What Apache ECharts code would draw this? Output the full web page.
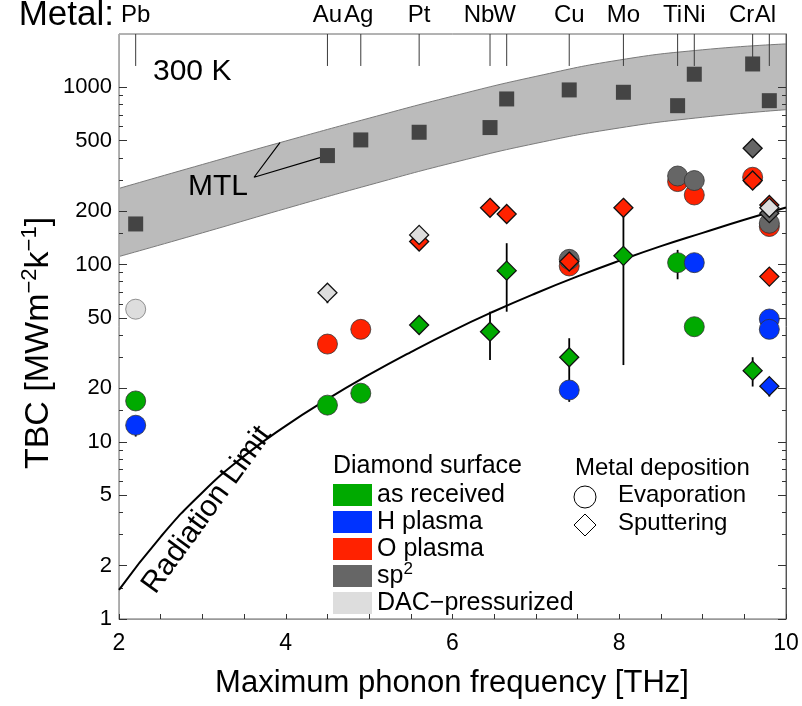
<!DOCTYPE html>
<html>
<head>
<meta charset="utf-8">
<title>TBC vs maximum phonon frequency</title>
<script src="https://cdn.jsdelivr.net/npm/echarts@6/dist/echarts.min.js"></script>
<style>
html,body{margin:0;padding:0;background:#ffffff;}
#chart{width:802px;height:706px;}
</style>
</head>
<body>
<div id="chart"></div>
<script>
// ---------------- data ----------------
const metals    = ['Pb','Au','Ag','Pt','Nb','W','Cu','Mo','Ti','Ni','Cr','Al'];
const metalFreq = [2.20,4.50,4.90,5.60,6.45,6.65,7.40,8.05,8.70,8.90,9.60,9.80];
const mtlValues = [169.5,412,505,558,593,860,967,938,788,1186,1355,841];

const bandFreq  = [2,3,4,5,6,7,8,9,10];
const bandUpper = [269,367,498,670,891,1153,1426,1629,1758];
const bandLower = [111,151,207,281,375,483,590,678,748];

const radFreq = [2,2.5,3,3.5,4,4.5,5,5.5,6,6.5,7,7.5,8,8.5,9,9.5,10];
const radTBC  = [1.46,2.91,5.18,8.30,12.3,17.4,23.9,32.1,42.3,54.5,68.9,85.7,105,127,151,179,210];

// entries: [metal, TBC, errLow, errHigh]
const evapAsReceived = [['Pb',17.0],['Au',16.1],['Ag',18.8],['Ti',102.5,82.6,121],['Ni',44.6]];
const evapHPlasma    = [['Pb',12.4,10.7,14],['Cu',19.6,16.8,22],['Ni',102.5],['Al',49.3],['Al',43.1]];
const evapOPlasma    = [['Au',35.6],['Ag',43.1],['Cu',98.2],['Ti',294],['Ni',247],['Cr',311],['Al',164]];
const evapSp2        = [['Cu',107],['Ti',316],['Ni',298],['Al',171]];
const evapDAC        = [['Pb',56.0]];

const sputAsReceived = [['Pt',45.6],['Nb',41.8,28.9,54.2],['W',92.4,54.2,132],['Cu',30.0,22,38.4],['Mo',112,27.1,195],['Cr',25.2,20.5,30.0]];
const sputHPlasma    = [['Al',20.6,18.0,23]];
const sputOPlasma    = [['Pt',135],['Nb',209],['W',193],['Cu',104],['Mo',209],['Cr',298],['Al',217],['Al',85.5]];
const sputSp2        = [['Cr',453],['Al',195]];
const sputDAC        = [['Au',69.4,60.5,75],['Pt',147],['Al',209]];

const yTickMajor  = [1,2,5,10,20,50,100,200,500,1000];
const yTickMinor  = [1.5,3,4,6,7,8,9,15,30,40,60,70,80,90,150,300,400,600,700,800,900];
const xTickLabels = [2,4,6,8,10];
const surfaceLabels    = ['as received','H plasma','O plasma','sp2','DAC\u2212pressurized'];
const depositionLabels = ['Evaporation','Sputtering'];

// ---------------- styling constants ----------------
const FF = '"Liberation Sans", Arial, Helvetica, sans-serif';
const Y_MIN = 1, Y_MAX = 2000, X_MIN = 2, X_MAX = 10;
const METAL_LINE_END = 1320;
const surfaceColors = ['#00aa00','#0033ff','#ff2200','#666666','#dddddd'];
const metalLabelShift = {Ag:-2, Nb:-11, W:-2, Ti:-5, Cr:-11, Al:-4};
const LOG = v => Math.log10(v);
const freqOf = {};
metals.forEach((m,i) => { freqOf[m] = metalFreq[i]; });

const pts  = arr => arr.map(d => [freqOf[d[0]], LOG(d[1])]);
const errs = arr => arr.filter(d => d.length > 2).map(d => [freqOf[d[0]], LOG(d[2]), LOG(d[3])]);

const chart = echarts.init(document.getElementById('chart'), null, {renderer:'canvas', width:802, height:706});

function yAxis(pos, ticks, len, withLabels, lineColor) {
  return {
    type:'value', min:LOG(Y_MIN), max:LOG(Y_MAX), position:pos,
    axisLine:{show:!!lineColor, lineStyle:{color:lineColor || '#000', width:1}},
    axisTick:{show:true, inside:true, length:len, customValues:ticks.map(LOG), lineStyle:{color:'#333', width:1}},
    axisLabel: withLabels ? {
      show:true, customValues:ticks.map(LOG), margin:7,
      formatter: v => String(Math.round(Math.pow(10, v))),
      fontSize:22, fontFamily:FF, color:'#000'
    } : {show:false},
    splitLine:{show:false}
  };
}

function scatter(name, arr, symbol, color, size, border, bw) {
  return {
    type:'scatter', name, data:pts(arr), symbol, symbolSize:size, clip:false,
    itemStyle:{color, opacity:1, borderColor:border, borderWidth:bw},
    emphasis:{disabled:true}, silent:true
  };
}

const allErr = [].concat(
  errs(evapAsReceived), errs(evapHPlasma), errs(evapOPlasma), errs(evapSp2), errs(evapDAC),
  errs(sputAsReceived), errs(sputHPlasma), errs(sputOPlasma), errs(sputSp2), errs(sputDAC)
);

const series = [
  // MTL band: grey area under the upper edge, white area under the lower edge
  {type:'line', name:'MTL upper', data:bandFreq.map((x,i)=>[x, LOG(bandUpper[i])]),
   smooth:0.5, symbol:'none', silent:true, z:-1,
   lineStyle:{color:'#7a7a7a', width:1}, areaStyle:{color:'#bbbbbb', opacity:1, origin:'start'}},
  {type:'line', name:'MTL lower', data:bandFreq.map((x,i)=>[x, LOG(bandLower[i])]),
   smooth:0.5, symbol:'none', silent:true, z:-1,
   lineStyle:{color:'#7a7a7a', width:1}, areaStyle:{color:'#ffffff', opacity:1, origin:'start'}},
  // Radiation limit
  {type:'line', name:'Radiation Limit', data:radFreq.map((x,i)=>[x, LOG(radTBC[i])]),
   smooth:0.5, symbol:'none', silent:true, lineStyle:{color:'#000', width:2}, z:2},
  // MTL pointer lines
  {type:'line', name:'MTL pointer', data:[[3.93, LOG(487)],[3.62, LOG(311)],[4.49, LOG(412)]],
   symbol:'none', silent:true, lineStyle:{color:'#000', width:1.2}, z:2},
  // metal marker lines + labels
  {type:'custom', name:'metals', clip:false, silent:true, z:2,
   data:metalFreq.map(f => [f, LOG(METAL_LINE_END)]), encode:{x:0, y:1},
   renderItem:(p, api) => {
     const top = api.coord([api.value(0), LOG(Y_MAX)]);
     const bot = api.coord([api.value(0), api.value(1)]);
     const name = metals[p.dataIndex];
     return {type:'group', children:[
       {type:'line', shape:{x1:top[0], y1:top[1], x2:bot[0], y2:bot[1]}, style:{stroke:'#3a3a3a', lineWidth:1}},
       {type:'text', x:top[0] + (metalLabelShift[name] || 0), y:top[1] - 19,
        style:{text:name, fill:'#000', fontSize:24, fontFamily:FF, align:'center', verticalAlign:'middle',
               textAlign:'center', textVerticalAlign:'middle'}}
     ]};
   }},
  // MTL squares
  {type:'scatter', name:'MTL', data:metalFreq.map((f,i)=>[f, LOG(mtlValues[i])]), symbol:'rect',
   symbolSize:15, itemStyle:{color:'#444444', opacity:1}, silent:true, z:2},
  // error bars
  {type:'custom', name:'error bars', clip:false, silent:true, z:2, data:allErr, encode:{x:0, y:[1,2]},
   renderItem:(p, api) => {
     const a = api.coord([api.value(0), api.value(1)]);
     const b = api.coord([api.value(0), api.value(2)]);
     return {type:'line', shape:{x1:a[0], y1:a[1], x2:b[0], y2:b[1]}, style:{stroke:'#000', lineWidth:1.8}};
   }},
  // evaporation (circles)
  scatter('Evap O plasma', evapOPlasma, 'circle', surfaceColors[2], 20, '#333', 0.8),
  scatter('Evap sp2', evapSp2, 'circle', surfaceColors[3], 20, '#333', 0.8),
  scatter('Evap as received', evapAsReceived, 'circle', surfaceColors[0], 20, '#333', 0.8),
  scatter('Evap H plasma', evapHPlasma, 'circle', surfaceColors[1], 20, '#333', 0.8),
  scatter('Evap DAC', evapDAC, 'circle', surfaceColors[4], 20, '#777', 0.8),
  // sputtering (diamonds)
  scatter('Sput O plasma', sputOPlasma, 'diamond', surfaceColors[2], 19, '#111', 1.3),
  scatter('Sput sp2', sputSp2, 'diamond', surfaceColors[3], 19, '#111', 1.3),
  scatter('Sput as received', sputAsReceived, 'diamond', surfaceColors[0], 19, '#111', 1.3),
  scatter('Sput H plasma', sputHPlasma, 'diamond', surfaceColors[1], 19, '#111', 1.3),
  scatter('Sput DAC', sputDAC, 'diamond', surfaceColors[4], 19, '#111', 1.3)
];

// ---------------- annotations / legend (graphic) ----------------
function txt(x, y, text, size, align, extra) {
  return Object.assign({type:'text', x, y, silent:true, z:100,
    style:{text, fill:'#000', fontSize:size, fontFamily:FF,
           align:align || 'left', verticalAlign:'middle',
           textAlign:align || 'left', textVerticalAlign:'middle'}}, extra || {});
}
const graphics = [];
graphics.push(txt(114, 15, 'Metal:', 35, 'right'));
graphics.push(txt(153, 72, '300 K', 30, 'left'));
graphics.push(txt(218, 187, 'MTL', 30, 'center'));
graphics.push(txt(207, 510, 'Radiation Limit', 30, 'center', {rotation: 54 * Math.PI / 180}));
graphics.push(txt(452, 683, 'Maximum phonon frequency [THz]', 31, 'center'));
// y axis title with superscripts
graphics.push({type:'text', x:39, y:343, rotation:Math.PI/2, silent:true, z:100,
  style:{text:'TBC [MWm{s|\u22122}k{s|\u22121}]', fill:'#000', fontSize:34, fontFamily:FF,
         align:'center', verticalAlign:'middle', textAlign:'center', textVerticalAlign:'middle',
         rich:{s:{fontSize:22, fontFamily:FF, fill:'#000', padding:[0,0,18,0]}}}});
// legend: Diamond surface
graphics.push(txt(333, 466, 'Diamond surface', 25, 'left'));
surfaceLabels.forEach((lab, i) => {
  const top = 484 + i * 27;
  graphics.push({type:'rect', silent:true, z:100, shape:{x:333, y:top, width:39, height:22},
                 style:{fill:surfaceColors[i]}});
  const t = lab === 'sp2' ? 'sp{s|2}' : lab;
  graphics.push({type:'text', x:377, y:top + 11, silent:true, z:100,
    style:{text:t, fill:'#000', fontSize:25, fontFamily:FF, align:'left', verticalAlign:'middle',
           textAlign:'left', textVerticalAlign:'middle',
           rich:{s:{fontSize:17, fontFamily:FF, fill:'#000', padding:[0,0,14,0]}}}});
});
// legend: Metal deposition
graphics.push(txt(575, 468, 'Metal deposition', 24, 'left'));
graphics.push({type:'circle', silent:true, z:100, shape:{cx:585, cy:497, r:11},
               style:{fill:'#fff', stroke:'#000', lineWidth:1}});
graphics.push(txt(618, 495, depositionLabels[0], 24, 'left'));
graphics.push({type:'polygon', silent:true, z:100,
               shape:{points:[[585,514],[596,525],[585,536],[574,525]]},
               style:{fill:'#fff', stroke:'#000', lineWidth:1}});
graphics.push(txt(618, 523, depositionLabels[1], 24, 'left'));

const option = {
  animation:false,
  backgroundColor:'#ffffff',
  textStyle:{fontFamily:FF},
  grid:{left:119, right:16, top:34, bottom:87, show:true, borderColor:'#666', borderWidth:1,
        backgroundColor:'transparent', containLabel:false, outerBoundsMode:'none'},
  xAxis:{
    type:'value', min:X_MIN, max:X_MAX, interval:0.5, position:'bottom',
    axisLine:{show:true, lineStyle:{color:'#999', width:1}},
    axisTick:{show:true, inside:true, length:5, lineStyle:{color:'#333', width:1}},
    axisLabel:{show:true, customValues:xTickLabels, margin:13, fontSize:23, fontFamily:FF, color:'#000',
               formatter: v => String(v)},
    splitLine:{show:false}
  },
  yAxis:[
    yAxis('left', yTickMajor, 8, true, '#aaa'),
    yAxis('left', yTickMinor, 4, false, null),
    yAxis('right', yTickMajor, 8, false, '#555'),
    yAxis('right', yTickMinor, 4, false, null)
  ],
  series,
  graphic:graphics
};
chart.setOption(option);
</script>
</body>
</html>
